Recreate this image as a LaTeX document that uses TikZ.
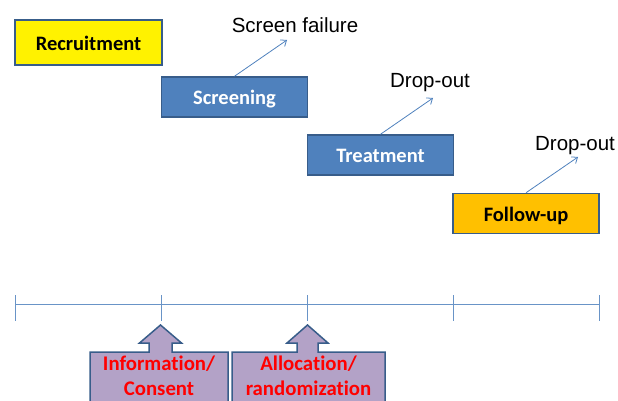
\documentclass[tikz,border=0pt]{standalone}
\usepackage{fontspec}
\setmainfont[Ligatures={NoCommon,NoDiscretionary}]{Carlito}
\newfontfamily\arialfont{Liberation Sans}
\usetikzlibrary{arrows.meta,calc}
\definecolor{boxblue}{HTML}{4F81BD}
\definecolor{edgeblue}{HTML}{385D8A}
\definecolor{fuorange}{HTML}{FFC000}
\definecolor{lav}{HTML}{B3A2C7}
\tikzset{
  stagebox/.style={draw=edgeblue, line width=1.5pt, minimum width=146pt, minimum height=40pt, inner sep=0pt, text height=17pt, text depth=1.8pt, font=\fontsize{20.5}{22}\selectfont\bfseries},
  outlbl/.style={font=\arialfont\fontsize{20.5}{22}\selectfont, inner sep=0pt},
  outarrow/.style={draw=boxblue, line width=0.8pt, -{Straight Barb[length=5pt,width=8pt]}},
  tl/.style={draw=boxblue!85, line width=0.9pt},
  callout/.style={draw=edgeblue, line width=1.5pt, fill=lav, line join=miter},
  calltext/.style={text=red, font=\fontsize{20.8}{25}\selectfont\bfseries, align=center, inner sep=0pt}
}
\begin{document}
\begin{tikzpicture}[x=1pt,y=-1pt]
\useasboundingbox (0,0) rectangle (618,401);
\clip (0,0) rectangle (618,401);
% stage boxes
\node[stagebox, fill=yellow, minimum height=45pt, minimum width=147pt] (rec) at (88.5,42.5) {Recruitment};
\node[stagebox, fill=boxblue, text=white] (scr) at (234.5,97) {Screening};
\node[stagebox, fill=boxblue, text=white] (trt) at (380.5,155) {Treatment};
\node[stagebox, fill=fuorange] (fu) at (526,213.5) {Follow-up};
% outcome labels
\node[outlbl] (sf) at (295,25) {Screen failure};
\node[outlbl] (do1) at (430,83) {Drop-out};
\node[outlbl] (do2) at (575,146) {Drop-out};
\coordinate (e1) at (287,40);
\coordinate (e2) at (433,98);
\coordinate (e3) at (578,157);
\draw[outarrow] (scr.north) -- (e1);
\draw[outarrow] (trt.north) -- (e2);
\draw[outarrow] (fu.north) -- (e3);
% timeline
\coordinate (t0) at (15,304);
\coordinate (t1) at (161,304);
\coordinate (t2) at (307,304);
\coordinate (t3) at (453,304);
\coordinate (t4) at (599,304);
\draw[tl] (t0) -- (t4);
\foreach \t in {t0,t1,t2,t3,t4}{
  \draw[tl] ($(\t)+(0,-9)$) -- ($(\t)+(0,17)$);
}
% callouts
\draw[callout] (90,420) -- (90,352) -- (149,352) -- (149,343) -- (139.5,343) -- (160.5,325) -- (181.5,343) -- (172,343) -- (172,352) -- (228,352) -- (228,420) -- cycle;
\draw[callout] (232,420) -- (232,352) -- (297,352) -- (297,343) -- (287,343) -- (307.5,325) -- (328,343) -- (318,343) -- (318,352) -- (385,352) -- (385,420) -- cycle;
\node[calltext, anchor=north] (ic) at (159,356) {Information/\\Consent};
\node[calltext, anchor=north] (ar) at (308.5,356) {Allocation/\\randomization};
\end{tikzpicture}
\end{document}
